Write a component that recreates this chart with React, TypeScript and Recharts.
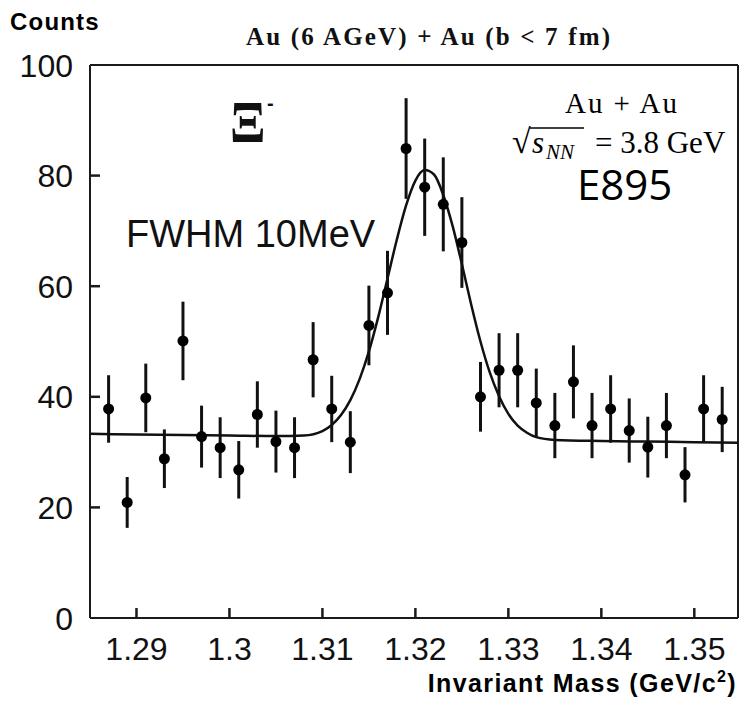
import React from "react";
import { ComposedChart, XAxis, YAxis, Scatter, Line, ErrorBar, ReferenceLine } from "recharts";

// Measured points (invariant mass in GeV/c^2, counts, symmetric error)
const masses = [1.287, 1.289, 1.291, 1.293, 1.295, 1.297, 1.299, 1.301, 1.303, 1.305, 1.307, 1.309, 1.311, 1.313, 1.315, 1.317, 1.319, 1.321, 1.323, 1.325, 1.327, 1.329, 1.331, 1.333, 1.335, 1.337, 1.339, 1.341, 1.343, 1.345, 1.347, 1.349, 1.351, 1.353];
const counts = [37.8, 20.9, 39.8, 28.8, 50.1, 32.8, 30.8, 26.8, 36.8, 31.9, 30.8, 46.7, 37.8, 31.8, 52.9, 58.8, 84.9, 77.9, 74.8, 67.9, 40.0, 44.8, 44.8, 38.9, 34.8, 42.7, 34.8, 37.8, 33.9, 30.9, 34.8, 25.9, 37.8, 35.9];
const errors = [6.1, 4.6, 6.2, 5.3, 7.1, 5.6, 5.5, 5.2, 6.0, 5.6, 5.5, 6.8, 6.0, 5.6, 7.2, 7.6, 9.1, 8.8, 8.5, 8.2, 6.3, 6.7, 6.7, 6.2, 5.9, 6.6, 5.9, 6.1, 5.8, 5.5, 5.9, 5.0, 6.1, 5.9];

// Fit curve
const fitMass = [1.285, 1.29, 1.295, 1.3, 1.305, 1.308, 1.31, 1.311, 1.312, 1.313, 1.314, 1.315, 1.316, 1.317, 1.318, 1.319, 1.32, 1.321, 1.322, 1.323, 1.324, 1.325, 1.326, 1.327, 1.328, 1.329, 1.33, 1.331, 1.332, 1.333, 1.335, 1.34, 1.345, 1.35, 1.3547];
const fitCounts = [33.3, 33.2, 33.1, 33.0, 32.9, 33.0, 33.8, 34.9, 36.7, 39.4, 43.2, 48.2, 54.4, 61.4, 68.4, 74.6, 79.1, 81.0, 80.2, 76.5, 70.9, 64.0, 56.7, 50.0, 44.4, 40.1, 36.9, 34.8, 33.5, 32.7, 32.2, 32.0, 31.9, 31.8, 31.7];

const xTicks = [1.29, 1.3, 1.31, 1.32, 1.33, 1.34, 1.35];
const yTicks = [0, 20, 40, 60, 80, 100];
const yInnerTicks = [20, 40, 60, 80];
const xDomain = [1.285, 1.3547];
const yDomain = [0, 100];

// inward tick-mark lengths in data units (about 10 px each)
const X_TICK_LEN = 1.8;
const Y_TICK_LEN = 0.00108;

const points = masses.map((m, i) => ({ x: m, y: counts[i], err: errors[i] }));
const fit = fitMass.map((m, i) => ({ x: m, y: fitCounts[i] }));
// tick marks drawn as error bars centred half a tick length inside the frame
const xTickMarks = xTicks.map((t) => ({ x: t, y: yDomain[0] + X_TICK_LEN / 2, e: X_TICK_LEN / 2 }));
const yTickMarks = yInnerTicks.map((v) => ({ x: xDomain[0] + Y_TICK_LEN / 2, y: v, e: Y_TICK_LEN / 2 }));

const SANS = "'Liberation Sans', Arial, sans-serif";
const SERIF = "'Liberation Serif', 'Times New Roman', serif";
const AX = "#1a1a1a";

const Dot = (p: any) => <circle cx={p.cx} cy={p.cy} r={5.5} fill="#000" />;
const NoShape = () => <g />;

const XTick = (p: any) => {
  const { x, y, payload } = p;
  return (
    <text x={x} y={y + 23} textAnchor="middle" fontFamily={SANS} fontSize={32} fill="#111">
      {String(payload.value)}
    </text>
  );
};

const YTick = (p: any) => {
  const { x, y, payload } = p;
  return (
    <text x={x} y={y + 11.5} textAnchor="end" fontFamily={SANS} fontSize={32} fill="#111">
      {String(payload.value)}
    </text>
  );
};

export default function App() {
  return (
    <div style={{ position: "absolute", left: 0, top: 0, width: 741, height: 701, background: "#fff" }}>
      <ComposedChart width={741} height={701} margin={{ top: 65, right: 3, bottom: 43, left: 10 }}>
        <XAxis
          dataKey="x"
          type="number"
          domain={xDomain}
          ticks={xTicks}
          height={40}
          tickSize={0}
          tickMargin={19}
          stroke={AX}
          strokeWidth={2}
          tickLine={false}
          tick={<XTick />}
        />
        <YAxis
          dataKey="y"
          type="number"
          domain={yDomain}
          ticks={yTicks}
          width={80}
          tickSize={0}
          tickMargin={17}
          stroke={AX}
          strokeWidth={2}
          tickLine={false}
          tick={<YTick />}
        />
        {/* frame */}
        <ReferenceLine y={yDomain[0]} stroke={AX} strokeWidth={2} ifOverflow="visible" />
        <ReferenceLine y={yDomain[1]} stroke={AX} strokeWidth={2} ifOverflow="visible" />
        <ReferenceLine x={xDomain[0]} stroke={AX} strokeWidth={2} ifOverflow="visible" />
        <ReferenceLine x={xDomain[1]} stroke={AX} strokeWidth={2} ifOverflow="visible" />
        {/* inward tick marks */}
        <Scatter data={xTickMarks} dataKey="y" shape={NoShape} isAnimationActive={false}>
          <ErrorBar dataKey="e" direction="y" width={0} stroke={AX} strokeWidth={2.5} isAnimationActive={false} />
        </Scatter>
        <Scatter data={yTickMarks} dataKey="y" shape={NoShape} isAnimationActive={false}>
          <ErrorBar dataKey="e" direction="x" width={0} stroke={AX} strokeWidth={2.5} isAnimationActive={false} />
        </Scatter>
        <Line
          data={fit}
          dataKey="y"
          type="monotone"
          stroke="#111"
          strokeWidth={2.5}
          dot={false}
          activeDot={false}
          isAnimationActive={false}
        />
        <Scatter data={points} dataKey="y" shape={Dot} isAnimationActive={false}>
          <ErrorBar dataKey="err" direction="y" width={0} stroke="#111" strokeWidth={3} isAnimationActive={false} />
        </Scatter>
      </ComposedChart>
      <svg
        width={741}
        height={701}
        style={{ position: "absolute", left: 0, top: 0, pointerEvents: "none" }}
      >
        <text x={10} y={30} fontFamily={SANS} fontWeight="bold" fontSize={24} letterSpacing={1.2} fill="#000">
          Counts
        </text>
        <text x={246} y={45} fontFamily={SERIF} fontWeight="bold" fontSize={25} textLength={364} lengthAdjust="spacing" fill="#111">
          Au (6 AGeV) + Au (b &lt; 7 fm)
        </text>
        <text transform="translate(230,142) scale(0.97,1.1)" x={0} y={0} fontFamily={SERIF} fontWeight="bold" fontSize={54} fill="#111">
          Ξ
        </text>
        <text x={267} y={110} fontFamily={SANS} fontWeight="bold" fontSize={20} fill="#111">
          -
        </text>
        <text x={126} y={247} fontFamily={SANS} fontSize={38} fill="#111">
          FWHM 10MeV
        </text>
        <text x={565} y={113} fontFamily={SERIF} fontSize={29} textLength={112} lengthAdjust="spacing" fill="#000">
          Au + Au
        </text>
        <text y={153} fontFamily={SERIF} fontSize={31} fill="#000">
          <tspan x={512} fontSize={34}>√</tspan>
          <tspan x={532} fontStyle="italic">s</tspan>
          <tspan x={546} fontStyle="italic" fontSize={21} dy={6}>NN</tspan>
          <tspan x={595} dy={-6}>= 3.8 GeV</tspan>
        </text>
        <line x1={530} y1={128} x2={584} y2={128} stroke="#000" strokeWidth={1.6} />
        <text x={577} y={200} fontFamily="'Open Sans', sans-serif" fontSize={42} fill="#000">
          E895
        </text>
        <text x={737} y={692} textAnchor="end" fontFamily={SANS} fontWeight="bold" fontSize={25} letterSpacing={1.4} fill="#000">
          Invariant Mass (GeV/c<tspan fontSize={16} dy={-10}>2</tspan>
          <tspan dy={10}>)</tspan>
        </text>
      </svg>
    </div>
  );
}
